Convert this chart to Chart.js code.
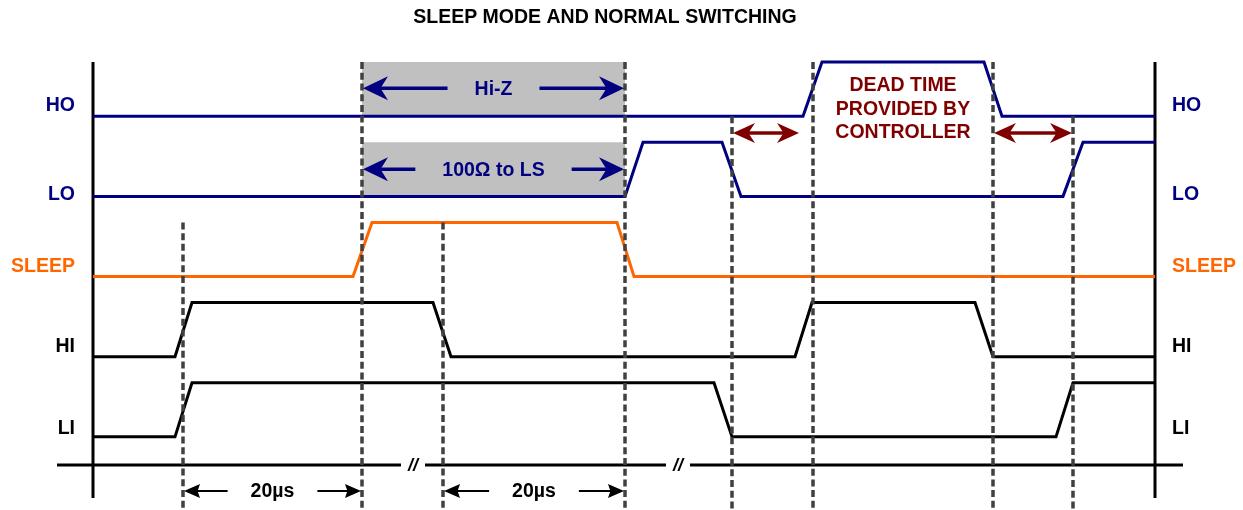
<!DOCTYPE html>
<html>
<head>
<meta charset="utf-8">
<script src="https://cdn.jsdelivr.net/npm/chart.js@4.4.1/dist/chart.umd.min.js"></script>
<style>
  html, body { margin: 0; padding: 0; background: #fff; }
  canvas { display: block; }
</style>
</head>
<body>
<canvas id="timing" width="1243" height="510"></canvas>
<script>
// rows of the timing diagram (low level of each trace), high = low + HIGH
const rowNames = ['HO', 'LO', 'SLEEP', 'HI', 'LI'];
const rowBase = [4, 3, 2, 1, 0];
const HIGH = 0.675;

// edge times (arbitrary time units, 0 = left frame) and logic levels
const hoTimes = [0, 710, 729, 891, 909, 1062];
const hoLevels = [0, 0, 1, 1, 0, 0];
const loTimes = [0, 532, 550, 629, 648, 970, 990, 1062];
const loLevels = [0, 0, 1, 1, 0, 0, 1, 1];
const sleepTimes = [0, 260, 279, 524, 541, 1062];
const sleepLevels = [0, 0, 1, 1, 0, 0];
const hiTimes = [0, 82, 99, 340, 358, 702, 719, 882, 900, 1062];
const hiLevels = [0, 0, 1, 1, 0, 0, 1, 1, 0, 0];
const liTimes = [0, 82, 99, 621, 639, 963, 980, 1062];
const liLevels = [0, 0, 1, 1, 0, 0, 1, 1];

// dotted reference lines: time, row they start from, level
const markerTimes = [90, 269, 350, 532, 639, 720, 900, 980];
const markerRows = ['SLEEP', 'HO', 'SLEEP', 'HO', 'HO', 'HO', 'HO', 'HO'];
const markerLevels = [1, 1, 1, 1, 0, 1, 1, 0];

// time axis with two breaks
const timeAxisY = -0.35;
const timeAxisSegments = [[-36, 308], [332, 573], [597, 1090]];
const breakTimes = [320, 585];
const frameTimes = [0, 1062];
const frameBottom = -0.7625;

// shaded hi-z windows
const shadeRows = ['HO', 'LO'];
const shadeFrom = 269;
const shadeTo = 532;

// span arrows with text in the middle
const spanLabels = ['Hi-Z', '100\u03A9 to LS', '20\u00B5s', '20\u00B5s'];
const spanFrom = [269, 269, 90, 350];
const spanTo = [532, 532, 269, 532];
const spanY = [4.35, 3.34, -0.675, -0.675];

// dead time arrows
const deadFrom = [639, 900];
const deadTo = [707, 980];
const deadY = 3.79;
const deadText = ['DEAD TIME', 'PROVIDED BY', 'CONTROLLER'];

const NAVY = '#000080';
const ORANGE = '#ff6600';
const DARKRED = '#800000';
const GREY = '#404040';
const FONT = '"Liberation Sans", Arial, sans-serif';

const rowColors = [NAVY, NAVY, ORANGE, '#000', '#000'];
const labelBaseline = [0.071, -0.045, 0.061, 0.059, 0.036];

const base = name => rowBase[rowNames.indexOf(name)];
const trace = (times, levels, b) => times.map((t, i) => ({ x: t, y: b + levels[i] * HIGH }));

const datasets = [];

// grey boxes
shadeRows.forEach(r => {
  datasets.push({
    data: [{ x: shadeFrom, y: base(r) + HIGH }, { x: shadeTo, y: base(r) + HIGH }],
    borderWidth: 0,
    backgroundColor: '#c0c0c0',
    fill: { value: base(r) },
    order: 10,
  });
});

// frame and time axis
frameTimes.forEach(t => {
  datasets.push({
    data: [{ x: t, y: frameBottom }, { x: t, y: rowBase[0] + HIGH }],
    borderColor: '#000', borderWidth: 3, order: 4,
  });
});
timeAxisSegments.forEach(s => {
  datasets.push({
    data: [{ x: s[0], y: timeAxisY }, { x: s[1], y: timeAxisY }],
    borderColor: '#000', borderWidth: 3, order: 4,
  });
});

// signals
const signals = [
  [hoTimes, hoLevels], [loTimes, loLevels], [sleepTimes, sleepLevels],
  [hiTimes, hiLevels], [liTimes, liLevels],
];
signals.forEach((s, i) => {
  datasets.push({
    data: trace(s[0], s[1], rowBase[i]),
    borderColor: rowColors[i], borderWidth: 3, order: 2,
  });
});

// dotted markers (drawn on top)
markerTimes.forEach((t, i) => {
  datasets.push({
    data: [{ x: t, y: base(markerRows[i]) + markerLevels[i] * HIGH }, { x: t, y: -0.9125 }],
    borderColor: GREY, borderWidth: 3.5, borderDash: [7, 3.7], order: 1,
  });
});

function head(ctx, tip, y, dir, len, half, notch) {
  ctx.beginPath();
  ctx.moveTo(tip, y);
  ctx.lineTo(tip + dir * len, y - half);
  ctx.lineTo(tip + dir * len * notch, y);
  ctx.lineTo(tip + dir * len, y + half);
  ctx.closePath();
  ctx.fill();
}

function shaft(ctx, x1, x2, y, w) {
  ctx.lineWidth = w;
  ctx.beginPath();
  ctx.moveTo(x1, y);
  ctx.lineTo(x2, y);
  ctx.stroke();
}

const annotate = {
  id: 'annotate',
  afterDatasetsDraw(chart) {
    const { ctx, scales: { x, y } } = chart;
    ctx.save();

    // title
    ctx.fillStyle = '#000';
    ctx.font = 'bold 19.5px ' + FONT;
    ctx.textAlign = 'center';
    ctx.textBaseline = 'alphabetic';
    ctx.fillText('SLEEP MODE AND NORMAL SWITCHING', 605, 23);

    // row labels, both sides
    rowNames.forEach((n, i) => {
      const py = y.getPixelForValue(rowBase[i] + labelBaseline[i]);
      ctx.fillStyle = rowColors[i];
      ctx.textAlign = 'right';
      ctx.fillText(n, x.getPixelForValue(-18), py);
      ctx.textAlign = 'left';
      ctx.fillText(n, x.getPixelForValue(1079), py);
    });

    // span arrows
    spanLabels.forEach((t, i) => {
      const black = spanY[i] < 0;
      const col = black ? '#000' : NAVY;
      const x1 = x.getPixelForValue(spanFrom[i]);
      const x2 = x.getPixelForValue(spanTo[i]);
      const py = y.getPixelForValue(spanY[i]);
      const cx = (x1 + x2) / 2;
      ctx.fillStyle = col;
      ctx.strokeStyle = col;
      ctx.textAlign = 'center';
      ctx.textBaseline = 'middle';
      ctx.fillText(t, cx, py + 1);
      const gap = ctx.measureText(t).width / 2 + (black ? 23 : 27);
      const len = black ? 16 : 25;
      const half = black ? 7 : 12;
      shaft(ctx, x1 + len * 0.7, cx - gap, py, black ? 2 : 3.5);
      shaft(ctx, cx + gap, x2 - len * 0.7, py, black ? 2 : 3.5);
      head(ctx, x1 + 1, py, 1, len, half, black ? 0.85 : 0.7);
      head(ctx, x2 - 1, py, -1, len, half, black ? 0.85 : 0.7);
    });

    // dead time arrows and text
    ctx.fillStyle = DARKRED;
    ctx.strokeStyle = DARKRED;
    deadFrom.forEach((f, i) => {
      const x1 = x.getPixelForValue(f);
      const x2 = x.getPixelForValue(deadTo[i]);
      const py = y.getPixelForValue(deadY);
      shaft(ctx, x1 + 12, x2 - 12, py, 3.5);
      head(ctx, x1 + 1, py, 1, 22, 10, 0.7);
      head(ctx, x2 - 1, py, -1, 22, 10, 0.7);
    });
    ctx.textAlign = 'center';
    ctx.textBaseline = 'alphabetic';
    const dx = x.getPixelForValue((markerTimes[5] + markerTimes[6]) / 2);
    deadText.forEach((t, i) => ctx.fillText(t, dx, 91 + i * 23.5));

    // axis breaks
    ctx.fillStyle = '#000';
    ctx.font = 'bold italic 18px ' + FONT;
    ctx.textBaseline = 'middle';
    breakTimes.forEach(t => ctx.fillText('//', x.getPixelForValue(t), y.getPixelForValue(timeAxisY) + 1));

    ctx.restore();
  },
};

new Chart(document.getElementById('timing'), {
  type: 'scatter',
  data: { datasets },
  options: {
    responsive: false,
    animation: false,
    events: [],
    layout: { padding: 0 },
    elements: { point: { radius: 0 }, line: { tension: 0, borderJoinStyle: 'miter' } },
    datasets: { scatter: { showLine: true } },
    scales: {
      x: { type: 'linear', min: -93, max: 1150, display: false },
      y: { type: 'linear', min: -0.9125, max: 5.45, display: false },
    },
    plugins: { legend: { display: false }, tooltip: { enabled: false } },
  },
  plugins: [annotate],
});
</script>
</body>
</html>
